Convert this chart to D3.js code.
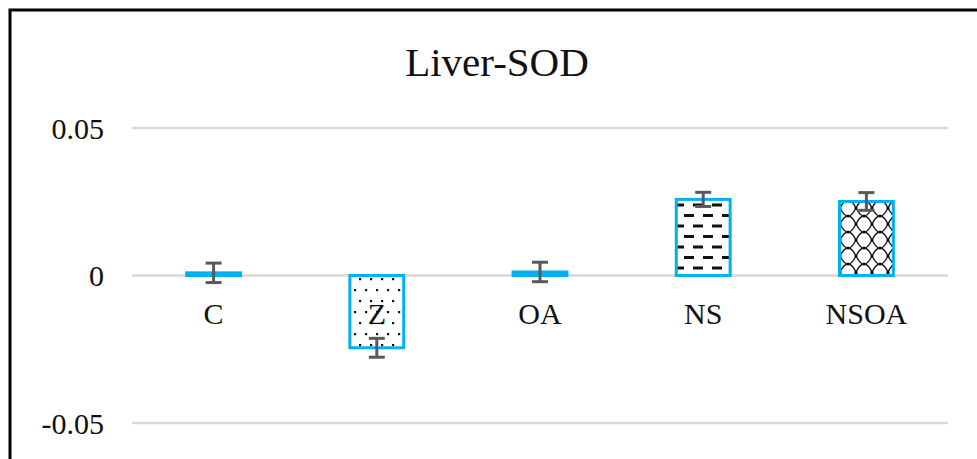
<!DOCTYPE html>
<html>
<head>
<meta charset="utf-8">
<script src="https://cdn.jsdelivr.net/npm/d3@7"></script>
<style>
  body { margin: 0; background: #fff; }
  svg text { font-family: "Liberation Serif", "Times New Roman", serif; }
</style>
</head>
<body>
<div id="chart"></div>
<script>
var groups = ["C", "Z", "OA", "NS", "NSOA"];
var means = [0.0009, -0.0245, 0.0012, 0.0258, 0.0251];
var errs = [0.0033, 0.0032, 0.0033, 0.0024, 0.003];
var fills = ["#00b0f0", "url(#dots)", "#00b0f0", "url(#dashes)", "url(#lattice)"];
var yTicks = [-0.05, 0, 0.05];
var yTickLabels = ["-0.05", "0", "0.05"];

var width = 977, height = 459;
var svg = d3.select("#chart").append("svg")
    .attr("width", width)
    .attr("height", height);

// patterns used by the bars
var defs = svg.append("defs");
var pDots = defs.append("pattern").attr("id", "dots")
    .attr("patternUnits", "userSpaceOnUse")
    .attr("width", 22).attr("height", 22);
pDots.append("rect").attr("width", 22).attr("height", 22).attr("fill", "#fff");
[[2, 3], [13, 3], [7, 14], [18, 14]].forEach(function (p) {
    pDots.append("rect").attr("x", p[0]).attr("y", p[1])
        .attr("width", 2.2).attr("height", 2.2).attr("fill", "#111");
});

var pDash = defs.append("pattern").attr("id", "dashes")
    .attr("patternUnits", "userSpaceOnUse")
    .attr("width", 19).attr("height", 21);
pDash.append("rect").attr("width", 19).attr("height", 21).attr("fill", "#fff");
pDash.append("rect").attr("x", 0).attr("y", 4).attr("width", 10).attr("height", 3).attr("fill", "#111");
pDash.append("rect").attr("x", 9).attr("y", 14.5).attr("width", 10).attr("height", 3).attr("fill", "#111");

var pLat = defs.append("pattern").attr("id", "lattice")
    .attr("patternUnits", "userSpaceOnUse")
    .attr("width", 16).attr("height", 16);
pLat.append("rect").attr("width", 16).attr("height", 16).attr("fill", "#fff");
pLat.append("path")
    .attr("d", "M0,8 Q4,8 8,0 M8,0 Q12,8 16,8 M0,8 Q4,8 8,16 M8,16 Q12,8 16,8")
    .attr("fill", "none").attr("stroke", "#111").attr("stroke-width", 1.3);
[[0, 8], [16, 8], [8, 0], [8, 16]].forEach(function (p) {
    pLat.append("circle").attr("cx", p[0]).attr("cy", p[1]).attr("r", 1.6).attr("fill", "#111");
});

// frame (right and bottom edges run off the picture)
svg.append("path")
    .attr("d", "M10,459 L10,10 L977,10")
    .attr("fill", "none")
    .attr("stroke", "#000")
    .attr("stroke-width", 3);

var x = d3.scaleBand()
    .domain(groups)
    .range([132, 948])
    .paddingInner(0.67)
    .paddingOuter(0.335);
var y = d3.scaleLinear()
    .domain([-0.05, 0.05])
    .range([423, 128]);

svg.append("text")
    .attr("x", 497)
    .attr("y", 76)
    .attr("text-anchor", "middle")
    .attr("font-size", 41)
    .attr("fill", "#111")
    .text("Liver-SOD");

// gridlines
svg.append("g").selectAll("line")
    .data(yTicks)
    .join("line")
    .attr("x1", 132).attr("x2", 948)
    .attr("y1", function (d) { return y(d); })
    .attr("y2", function (d) { return y(d); })
    .attr("stroke", "#d9d9d9")
    .attr("stroke-width", 2.5);

// y tick labels
svg.append("g").selectAll("text")
    .data(yTicks)
    .join("text")
    .attr("x", 104)
    .attr("y", function (d) { return y(d); })
    .attr("dy", "0.35em")
    .attr("text-anchor", "end")
    .attr("font-size", 30)
    .attr("fill", "#111")
    .text(function (d, i) { return yTickLabels[i]; });

// bars
svg.append("g").selectAll("rect")
    .data(groups)
    .join("rect")
    .attr("x", function (d) { return x(d); })
    .attr("width", x.bandwidth())
    .attr("y", function (d, i) { return y(Math.max(0, means[i])); })
    .attr("height", function (d, i) { return Math.abs(y(means[i]) - y(0)); })
    .attr("fill", function (d, i) { return fills[i]; })
    .attr("stroke", "#00b0f0")
    .attr("stroke-width", 3);

// category labels
svg.append("g").selectAll("text")
    .data(groups)
    .join("text")
    .attr("x", function (d) { return x(d) + x.bandwidth() / 2; })
    .attr("y", 324)
    .attr("text-anchor", "middle")
    .attr("font-size", 30)
    .attr("fill", "#111")
    .text(function (d) { return d; });

// error bars
var eb = svg.append("g").attr("stroke", "#595959").attr("stroke-width", 3);
groups.forEach(function (g, i) {
    var cx = x(g) + x.bandwidth() / 2;
    var top = y(means[i] + errs[i]), bot = y(means[i] - errs[i]);
    eb.append("line").attr("x1", cx).attr("x2", cx).attr("y1", top).attr("y2", bot);
    eb.append("line").attr("x1", cx - 8).attr("x2", cx + 8).attr("y1", top).attr("y2", top);
    eb.append("line").attr("x1", cx - 8).attr("x2", cx + 8).attr("y1", bot).attr("y2", bot);
});
</script>
</body>
</html>
